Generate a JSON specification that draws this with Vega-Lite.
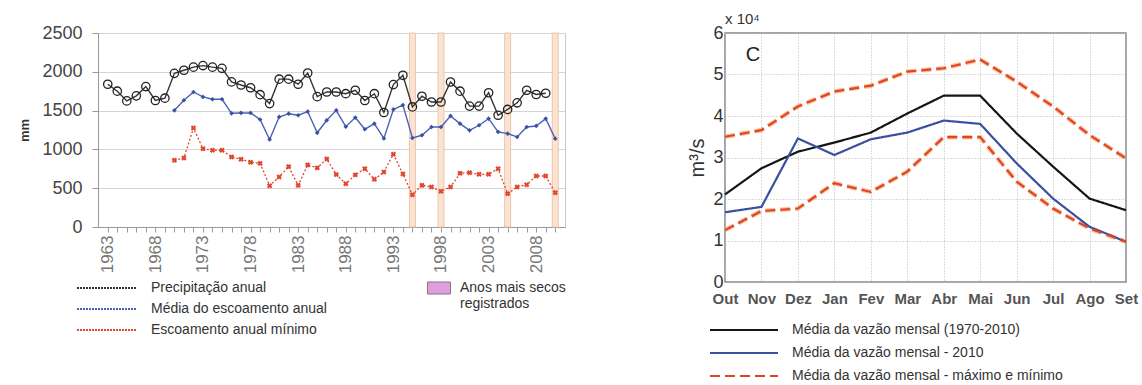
{
  "$schema": "https://vega.github.io/schema/vega-lite/v6.json",
  "background": "white",
  "padding": {"left": 17, "top": 11, "right": 0, "bottom": 0},
  "bounds": "flush",
  "spacing": 160,
  "config": {"font": "Liberation Sans"},
  "resolve": {
    "scale": {"color": "independent", "fill": "independent", "strokeDash": "independent"},
    "legend": {"color": "independent", "fill": "independent", "strokeDash": "independent"}
  },
  "datasets": {
    "secos": [{"ano": 1995}, {"ano": 1998}, {"ano": 2005}, {"ano": 2010}],
    "anual": [
      {"ano": 1963, "serie": "Precipitação anual", "valor": 1840},
      {"ano": 1964, "serie": "Precipitação anual", "valor": 1750},
      {"ano": 1965, "serie": "Precipitação anual", "valor": 1625},
      {"ano": 1966, "serie": "Precipitação anual", "valor": 1690},
      {"ano": 1967, "serie": "Precipitação anual", "valor": 1810},
      {"ano": 1968, "serie": "Precipitação anual", "valor": 1630},
      {"ano": 1969, "serie": "Precipitação anual", "valor": 1660},
      {"ano": 1970, "serie": "Precipitação anual", "valor": 1980},
      {"ano": 1971, "serie": "Precipitação anual", "valor": 2020},
      {"ano": 1972, "serie": "Precipitação anual", "valor": 2060},
      {"ano": 1973, "serie": "Precipitação anual", "valor": 2080},
      {"ano": 1974, "serie": "Precipitação anual", "valor": 2060},
      {"ano": 1975, "serie": "Precipitação anual", "valor": 2045},
      {"ano": 1976, "serie": "Precipitação anual", "valor": 1870},
      {"ano": 1977, "serie": "Precipitação anual", "valor": 1830},
      {"ano": 1978, "serie": "Precipitação anual", "valor": 1795},
      {"ano": 1979, "serie": "Precipitação anual", "valor": 1705},
      {"ano": 1980, "serie": "Precipitação anual", "valor": 1590},
      {"ano": 1981, "serie": "Precipitação anual", "valor": 1905},
      {"ano": 1982, "serie": "Precipitação anual", "valor": 1905},
      {"ano": 1983, "serie": "Precipitação anual", "valor": 1840},
      {"ano": 1984, "serie": "Precipitação anual", "valor": 1985},
      {"ano": 1985, "serie": "Precipitação anual", "valor": 1680},
      {"ano": 1986, "serie": "Precipitação anual", "valor": 1740},
      {"ano": 1987, "serie": "Precipitação anual", "valor": 1740},
      {"ano": 1988, "serie": "Precipitação anual", "valor": 1718},
      {"ano": 1989, "serie": "Precipitação anual", "valor": 1762},
      {"ano": 1990, "serie": "Precipitação anual", "valor": 1630},
      {"ano": 1991, "serie": "Precipitação anual", "valor": 1718},
      {"ano": 1992, "serie": "Precipitação anual", "valor": 1475},
      {"ano": 1993, "serie": "Precipitação anual", "valor": 1835},
      {"ano": 1994, "serie": "Precipitação anual", "valor": 1955},
      {"ano": 1995, "serie": "Precipitação anual", "valor": 1547},
      {"ano": 1996, "serie": "Precipitação anual", "valor": 1685},
      {"ano": 1997, "serie": "Precipitação anual", "valor": 1611},
      {"ano": 1998, "serie": "Precipitação anual", "valor": 1611},
      {"ano": 1999, "serie": "Precipitação anual", "valor": 1869},
      {"ano": 2000, "serie": "Precipitação anual", "valor": 1750},
      {"ano": 2001, "serie": "Precipitação anual", "valor": 1558},
      {"ano": 2002, "serie": "Precipitação anual", "valor": 1558},
      {"ano": 2003, "serie": "Precipitação anual", "valor": 1730},
      {"ano": 2004, "serie": "Precipitação anual", "valor": 1440},
      {"ano": 2005, "serie": "Precipitação anual", "valor": 1515},
      {"ano": 2006, "serie": "Precipitação anual", "valor": 1600},
      {"ano": 2007, "serie": "Precipitação anual", "valor": 1762},
      {"ano": 2008, "serie": "Precipitação anual", "valor": 1708},
      {"ano": 2009, "serie": "Precipitação anual", "valor": 1724},
      {"ano": 1970, "serie": "Média do escoamento anual", "valor": 1504},
      {"ano": 1971, "serie": "Média do escoamento anual", "valor": 1633},
      {"ano": 1972, "serie": "Média do escoamento anual", "valor": 1740},
      {"ano": 1973, "serie": "Média do escoamento anual", "valor": 1676},
      {"ano": 1974, "serie": "Média do escoamento anual", "valor": 1646},
      {"ano": 1975, "serie": "Média do escoamento anual", "valor": 1646},
      {"ano": 1976, "serie": "Média do escoamento anual", "valor": 1465},
      {"ano": 1977, "serie": "Média do escoamento anual", "valor": 1470},
      {"ano": 1978, "serie": "Média do escoamento anual", "valor": 1470},
      {"ano": 1979, "serie": "Média do escoamento anual", "valor": 1385},
      {"ano": 1980, "serie": "Média do escoamento anual", "valor": 1128},
      {"ano": 1981, "serie": "Média do escoamento anual", "valor": 1418},
      {"ano": 1982, "serie": "Média do escoamento anual", "valor": 1460},
      {"ano": 1983, "serie": "Média do escoamento anual", "valor": 1440},
      {"ano": 1984, "serie": "Média do escoamento anual", "valor": 1488},
      {"ano": 1985, "serie": "Média do escoamento anual", "valor": 1214},
      {"ano": 1986, "serie": "Média do escoamento anual", "valor": 1375},
      {"ano": 1987, "serie": "Média do escoamento anual", "valor": 1504},
      {"ano": 1988, "serie": "Média do escoamento anual", "valor": 1293},
      {"ano": 1989, "serie": "Média do escoamento anual", "valor": 1410},
      {"ano": 1990, "serie": "Média do escoamento anual", "valor": 1260},
      {"ano": 1991, "serie": "Média do escoamento anual", "valor": 1332},
      {"ano": 1992, "serie": "Média do escoamento anual", "valor": 1142},
      {"ano": 1993, "serie": "Média do escoamento anual", "valor": 1515},
      {"ano": 1994, "serie": "Média do escoamento anual", "valor": 1572},
      {"ano": 1995, "serie": "Média do escoamento anual", "valor": 1147},
      {"ano": 1996, "serie": "Média do escoamento anual", "valor": 1182},
      {"ano": 1997, "serie": "Média do escoamento anual", "valor": 1289},
      {"ano": 1998, "serie": "Média do escoamento anual", "valor": 1289},
      {"ano": 1999, "serie": "Média do escoamento anual", "valor": 1431},
      {"ano": 2000, "serie": "Média do escoamento anual", "valor": 1332},
      {"ano": 2001, "serie": "Média do escoamento anual", "valor": 1246},
      {"ano": 2002, "serie": "Média do escoamento anual", "valor": 1311},
      {"ano": 2003, "serie": "Média do escoamento anual", "valor": 1396},
      {"ano": 2004, "serie": "Média do escoamento anual", "valor": 1225},
      {"ano": 2005, "serie": "Média do escoamento anual", "valor": 1203},
      {"ano": 2006, "serie": "Média do escoamento anual", "valor": 1160},
      {"ano": 2007, "serie": "Média do escoamento anual", "valor": 1289},
      {"ano": 2008, "serie": "Média do escoamento anual", "valor": 1302},
      {"ano": 2009, "serie": "Média do escoamento anual", "valor": 1396},
      {"ano": 2010, "serie": "Média do escoamento anual", "valor": 1138},
      {"ano": 1970, "serie": "Escoamento anual mínimo", "valor": 860},
      {"ano": 1971, "serie": "Escoamento anual mínimo", "valor": 889},
      {"ano": 1972, "serie": "Escoamento anual mínimo", "valor": 1276},
      {"ano": 1973, "serie": "Escoamento anual mínimo", "valor": 1009},
      {"ano": 1974, "serie": "Escoamento anual mínimo", "valor": 989},
      {"ano": 1975, "serie": "Escoamento anual mínimo", "valor": 989},
      {"ano": 1976, "serie": "Escoamento anual mínimo", "valor": 902},
      {"ano": 1977, "serie": "Escoamento anual mínimo", "valor": 873},
      {"ano": 1978, "serie": "Escoamento anual mínimo", "valor": 835},
      {"ano": 1979, "serie": "Escoamento anual mínimo", "valor": 820},
      {"ano": 1980, "serie": "Escoamento anual mínimo", "valor": 532},
      {"ano": 1981, "serie": "Escoamento anual mínimo", "valor": 645},
      {"ano": 1982, "serie": "Escoamento anual mínimo", "valor": 778},
      {"ano": 1983, "serie": "Escoamento anual mínimo", "valor": 537},
      {"ano": 1984, "serie": "Escoamento anual mínimo", "valor": 800},
      {"ano": 1985, "serie": "Escoamento anual mínimo", "valor": 762},
      {"ano": 1986, "serie": "Escoamento anual mínimo", "valor": 877},
      {"ano": 1987, "serie": "Escoamento anual mínimo", "valor": 676},
      {"ano": 1988, "serie": "Escoamento anual mínimo", "valor": 558},
      {"ano": 1989, "serie": "Escoamento anual mínimo", "valor": 672},
      {"ano": 1990, "serie": "Escoamento anual mínimo", "valor": 751},
      {"ano": 1991, "serie": "Escoamento anual mínimo", "valor": 615},
      {"ano": 1992, "serie": "Escoamento anual mínimo", "valor": 709},
      {"ano": 1993, "serie": "Escoamento anual mínimo", "valor": 938},
      {"ano": 1994, "serie": "Escoamento anual mínimo", "valor": 683},
      {"ano": 1995, "serie": "Escoamento anual mínimo", "valor": 416},
      {"ano": 1996, "serie": "Escoamento anual mínimo", "valor": 537},
      {"ano": 1997, "serie": "Escoamento anual mínimo", "valor": 516},
      {"ano": 1998, "serie": "Escoamento anual mínimo", "valor": 460},
      {"ano": 1999, "serie": "Escoamento anual mínimo", "valor": 516},
      {"ano": 2000, "serie": "Escoamento anual mínimo", "valor": 692},
      {"ano": 2001, "serie": "Escoamento anual mínimo", "valor": 700},
      {"ano": 2002, "serie": "Escoamento anual mínimo", "valor": 679},
      {"ano": 2003, "serie": "Escoamento anual mínimo", "valor": 679},
      {"ano": 2004, "serie": "Escoamento anual mínimo", "valor": 751},
      {"ano": 2005, "serie": "Escoamento anual mínimo", "valor": 430},
      {"ano": 2006, "serie": "Escoamento anual mínimo", "valor": 516},
      {"ano": 2007, "serie": "Escoamento anual mínimo", "valor": 545},
      {"ano": 2008, "serie": "Escoamento anual mínimo", "valor": 657},
      {"ano": 2009, "serie": "Escoamento anual mínimo", "valor": 657},
      {"ano": 2010, "serie": "Escoamento anual mínimo", "valor": 442}
    ],
    "mensal": [
      {"mes": "Out", "serie": "Média da vazão mensal (1970-2010)", "linha": "media", "valor": 2.11},
      {"mes": "Nov", "serie": "Média da vazão mensal (1970-2010)", "linha": "media", "valor": 2.74},
      {"mes": "Dez", "serie": "Média da vazão mensal (1970-2010)", "linha": "media", "valor": 3.14},
      {"mes": "Jan", "serie": "Média da vazão mensal (1970-2010)", "linha": "media", "valor": 3.36},
      {"mes": "Fev", "serie": "Média da vazão mensal (1970-2010)", "linha": "media", "valor": 3.6},
      {"mes": "Mar", "serie": "Média da vazão mensal (1970-2010)", "linha": "media", "valor": 4.06},
      {"mes": "Abr", "serie": "Média da vazão mensal (1970-2010)", "linha": "media", "valor": 4.49},
      {"mes": "Mai", "serie": "Média da vazão mensal (1970-2010)", "linha": "media", "valor": 4.49},
      {"mes": "Jun", "serie": "Média da vazão mensal (1970-2010)", "linha": "media", "valor": 3.58},
      {"mes": "Jul", "serie": "Média da vazão mensal (1970-2010)", "linha": "media", "valor": 2.78},
      {"mes": "Ago", "serie": "Média da vazão mensal (1970-2010)", "linha": "media", "valor": 2.01},
      {"mes": "Set", "serie": "Média da vazão mensal (1970-2010)", "linha": "media", "valor": 1.73},
      {"mes": "Out", "serie": "Média da vazão mensal - 2010", "linha": "2010", "valor": 1.68},
      {"mes": "Nov", "serie": "Média da vazão mensal - 2010", "linha": "2010", "valor": 1.81},
      {"mes": "Dez", "serie": "Média da vazão mensal - 2010", "linha": "2010", "valor": 3.46},
      {"mes": "Jan", "serie": "Média da vazão mensal - 2010", "linha": "2010", "valor": 3.06},
      {"mes": "Fev", "serie": "Média da vazão mensal - 2010", "linha": "2010", "valor": 3.44},
      {"mes": "Mar", "serie": "Média da vazão mensal - 2010", "linha": "2010", "valor": 3.6},
      {"mes": "Abr", "serie": "Média da vazão mensal - 2010", "linha": "2010", "valor": 3.89},
      {"mes": "Mai", "serie": "Média da vazão mensal - 2010", "linha": "2010", "valor": 3.81},
      {"mes": "Jun", "serie": "Média da vazão mensal - 2010", "linha": "2010", "valor": 2.86},
      {"mes": "Jul", "serie": "Média da vazão mensal - 2010", "linha": "2010", "valor": 2.01},
      {"mes": "Ago", "serie": "Média da vazão mensal - 2010", "linha": "2010", "valor": 1.33},
      {"mes": "Set", "serie": "Média da vazão mensal - 2010", "linha": "2010", "valor": 0.97},
      {"mes": "Out", "serie": "Média da vazão mensal - máximo e mínimo", "linha": "max", "valor": 3.5},
      {"mes": "Nov", "serie": "Média da vazão mensal - máximo e mínimo", "linha": "max", "valor": 3.66},
      {"mes": "Dez", "serie": "Média da vazão mensal - máximo e mínimo", "linha": "max", "valor": 4.23},
      {"mes": "Jan", "serie": "Média da vazão mensal - máximo e mínimo", "linha": "max", "valor": 4.59},
      {"mes": "Fev", "serie": "Média da vazão mensal - máximo e mínimo", "linha": "max", "valor": 4.73},
      {"mes": "Mar", "serie": "Média da vazão mensal - máximo e mínimo", "linha": "max", "valor": 5.07},
      {"mes": "Abr", "serie": "Média da vazão mensal - máximo e mínimo", "linha": "max", "valor": 5.15},
      {"mes": "Mai", "serie": "Média da vazão mensal - máximo e mínimo", "linha": "max", "valor": 5.36},
      {"mes": "Jun", "serie": "Média da vazão mensal - máximo e mínimo", "linha": "max", "valor": 4.83},
      {"mes": "Jul", "serie": "Média da vazão mensal - máximo e mínimo", "linha": "max", "valor": 4.23},
      {"mes": "Ago", "serie": "Média da vazão mensal - máximo e mínimo", "linha": "max", "valor": 3.54},
      {"mes": "Set", "serie": "Média da vazão mensal - máximo e mínimo", "linha": "max", "valor": 2.98},
      {"mes": "Out", "serie": "Média da vazão mensal - máximo e mínimo", "linha": "min", "valor": 1.25},
      {"mes": "Nov", "serie": "Média da vazão mensal - máximo e mínimo", "linha": "min", "valor": 1.71},
      {"mes": "Dez", "serie": "Média da vazão mensal - máximo e mínimo", "linha": "min", "valor": 1.77},
      {"mes": "Jan", "serie": "Média da vazão mensal - máximo e mínimo", "linha": "min", "valor": 2.38},
      {"mes": "Fev", "serie": "Média da vazão mensal - máximo e mínimo", "linha": "min", "valor": 2.17},
      {"mes": "Mar", "serie": "Média da vazão mensal - máximo e mínimo", "linha": "min", "valor": 2.66},
      {"mes": "Abr", "serie": "Média da vazão mensal - máximo e mínimo", "linha": "min", "valor": 3.49},
      {"mes": "Mai", "serie": "Média da vazão mensal - máximo e mínimo", "linha": "min", "valor": 3.49},
      {"mes": "Jun", "serie": "Média da vazão mensal - máximo e mínimo", "linha": "min", "valor": 2.42},
      {"mes": "Jul", "serie": "Média da vazão mensal - máximo e mínimo", "linha": "min", "valor": 1.77},
      {"mes": "Ago", "serie": "Média da vazão mensal - máximo e mínimo", "linha": "min", "valor": 1.29},
      {"mes": "Set", "serie": "Média da vazão mensal - máximo e mínimo", "linha": "min", "valor": 0.97}
    ],
    "rotulo": [{"texto": "C"}]
  },
  "hconcat": [
    {
      "width": 467,
      "height": 194,
      "view": {"stroke": "#c8c8c8", "strokeWidth": 1},
      "layer": [
        {
          "data": {"name": "secos"},
          "mark": {"type": "bar", "width": 6, "fill": "#fbe3d3", "stroke": "#f0c4a8", "strokeWidth": 1},
          "encoding": {
            "x": {"field": "ano", "type": "quantitative",
              "scale": {"domain": [1962.5, 2010.5], "nice": false, "zero": false},
              "axis": {"title": null, "tickCount": 200,
                "values": [1963,1964,1965,1966,1967,1968,1969,1970,1971,1972,1973,1974,1975,1976,1977,1978,1979,1980,1981,1982,1983,1984,1985,1986,1987,1988,1989,1990,1991,1992,1993,1994,1995,1996,1997,1998,1999,2000,2001,2002,2003,2004,2005,2006,2007,2008,2009,2010],
                "labelExpr": "(datum.value - 1963) % 5 == 0 ? '' + datum.value : ''",
                "labelAngle": -90, "labelAlign": "right", "labelBaseline": "middle",
                "labelFontSize": 17, "labelColor": "#777", "labelPadding": 3,
                "labelOverlap": false, "labelFlush": false,
                "tickSize": 5, "tickColor": "#999", "domainColor": "#999", "grid": false}},
            "y": {"datum": 0, "type": "quantitative",
              "scale": {"domain": [0, 2500], "nice": false},
              "axis": {"title": "mm", "titleFontSize": 13, "titleFontWeight": "bold", "titleColor": "#333", "titlePadding": 11,
                "values": [0, 500, 1000, 1500, 2000, 2500], "tickCount": 50, "format": "d",
                "labelFontSize": 18, "labelColor": "#444", "labelPadding": 10,
                "tickSize": 6, "tickColor": "#999", "domainColor": "#999",
                "grid": true, "gridColor": "#d4d4d4", "gridWidth": 1.2,
                "minExtent": 56, "maxExtent": 56}},
            "y2": {"datum": 2500}
          }
        },
        {
          "data": {"name": "secos"},
          "transform": [{"filter": "datum.ano < 0"}],
          "mark": {"type": "bar", "width": 6, "stroke": "#8a708a", "strokeWidth": 1},
          "encoding": {
            "x": {"field": "ano", "type": "quantitative"},
            "y": {"datum": 0, "type": "quantitative"},
            "y2": {"datum": 2500},
            "fill": {"datum": "Anos mais secos registrados",
              "scale": {"range": ["#dca0dc"]},
              "legend": {"orient": "none", "legendX": 334, "legendY": 248, "title": null,
                "symbolType": "M-1.92,-1H1.92V1H-1.92Z", "symbolSize": 144,
                "symbolStrokeColor": "#8a708a", "symbolStrokeWidth": 1, "symbolOpacity": 1,
                "labelOffset": 14, "labelFontSize": 14, "labelColor": "#333", "padding": 0,
                "labelExpr": "['Anos mais secos', 'registrados']", "labelLimit": 300}}
          }
        },
        {
          "data": {"name": "anual"},
          "transform": [{"filter": "datum.serie != 'Escoamento anual mínimo'"}],
          "mark": {"type": "line", "strokeWidth": 1.4},
          "encoding": {
            "x": {"field": "ano", "type": "quantitative"},
            "y": {"field": "valor", "type": "quantitative", "title": "mm"},
            "color": {"field": "serie", "type": "nominal",
              "scale": {"domain": ["Precipitação anual", "Média do escoamento anual", "Escoamento anual mínimo"],
                        "range": ["#333333", "#4a62b4", "#e2452e"]},
              "legend": {"orient": "none", "legendX": 2, "legendY": 248, "title": null,
                "symbolType": "M-6,0H6", "symbolSize": 100, "symbolStrokeWidth": 2, "symbolDash": [2, 1],
                "labelOffset": 37, "labelFontSize": 14, "labelColor": "#333",
                "rowPadding": 7, "padding": 0, "labelLimit": 300}}
          }
        },
        {
          "data": {"name": "anual"},
          "transform": [{"filter": "datum.serie == 'Escoamento anual mínimo'"}],
          "mark": {"type": "line", "strokeWidth": 1.3, "strokeDash": [2, 2]},
          "encoding": {
            "x": {"field": "ano", "type": "quantitative"},
            "y": {"field": "valor", "type": "quantitative", "title": "mm"},
            "color": {"field": "serie", "type": "nominal"}
          }
        },
        {
          "data": {"name": "anual"},
          "transform": [{"filter": "datum.serie == 'Precipitação anual'"}],
          "mark": {"type": "point", "shape": "circle", "filled": false, "size": 70, "stroke": "#222", "strokeWidth": 1.3, "opacity": 1},
          "encoding": {
            "x": {"field": "ano", "type": "quantitative"},
            "y": {"field": "valor", "type": "quantitative", "title": "mm"}
          }
        },
        {
          "data": {"name": "anual"},
          "transform": [{"filter": "datum.serie == 'Média do escoamento anual'"}],
          "mark": {"type": "point", "shape": "diamond", "filled": true, "size": 22, "color": "#3a52a6", "opacity": 1},
          "encoding": {
            "x": {"field": "ano", "type": "quantitative"},
            "y": {"field": "valor", "type": "quantitative", "title": "mm"}
          }
        },
        {
          "data": {"name": "anual"},
          "transform": [{"filter": "datum.serie == 'Escoamento anual mínimo'"}],
          "mark": {"type": "point", "shape": "cross", "angle": 45, "filled": true, "size": 30, "color": "#e2452e", "opacity": 1},
          "encoding": {
            "x": {"field": "ano", "type": "quantitative"},
            "y": {"field": "valor", "type": "quantitative", "title": "mm"}
          }
        }
      ]
    },
    {
      "width": 401,
      "height": 249,
      "title": {"text": "x 10⁴", "anchor": "start", "frame": "group", "fontSize": 15, "fontWeight": "normal", "color": "#333", "offset": -3},
      "view": {"stroke": "#888", "strokeWidth": 1.5},
      "layer": [
        {
          "data": {"name": "mensal"},
          "transform": [{"filter": "datum.linha == 'max' || datum.linha == 'min'"}],
          "mark": {"type": "line", "color": "#f7a86a", "strokeWidth": 4.5, "strokeDash": [10, 5], "opacity": 0.7},
          "encoding": {
            "x": {"field": "mes", "type": "ordinal",
              "sort": ["Out", "Nov", "Dez", "Jan", "Fev", "Mar", "Abr", "Mai", "Jun", "Jul", "Ago", "Set"],
              "scale": {"type": "point", "padding": 0},
              "axis": {"title": null, "labelAngle": 0, "labelFontSize": 15, "labelFontWeight": "bold", "labelColor": "#555",
                "labelPadding": 9, "ticks": false, "domain": false,
                "grid": true, "gridDash": [1, 2], "gridColor": "#b8b8b8"}},
            "y": {"field": "valor", "type": "quantitative",
              "scale": {"domain": [0, 6], "nice": false},
              "axis": {"title": "m³/s", "titleFontSize": 20, "titleFontWeight": "normal", "titleColor": "#333", "titlePadding": 5,
                "values": [0, 1, 2, 3, 4, 5, 6], "tickCount": 50, "format": "d", "labelFontSize": 18, "labelColor": "#333", "labelPadding": 2,
                "ticks": false, "domain": false, "grid": true, "gridDash": [1, 2], "gridColor": "#b8b8b8"}},
            "detail": {"field": "linha"}
          }
        },
        {
          "data": {"name": "mensal"},
          "mark": {"type": "line", "strokeWidth": 2.2, "strokeCap": "butt"},
          "encoding": {
            "x": {"field": "mes", "type": "ordinal",
              "sort": ["Out", "Nov", "Dez", "Jan", "Fev", "Mar", "Abr", "Mai", "Jun", "Jul", "Ago", "Set"]},
            "y": {"field": "valor", "type": "quantitative", "title": "m³/s"},
            "detail": {"field": "linha"},
            "color": {"field": "serie", "type": "nominal",
              "scale": {"domain": ["Média da vazão mensal (1970-2010)", "Média da vazão mensal - 2010", "Média da vazão mensal - máximo e mínimo"],
                        "range": ["#151515", "#3b4ea0", "#e04428"]},
              "legend": {"orient": "none", "legendX": 12, "legendY": 290, "title": null,
                "symbolType": "M-6.8,0H6.8", "symbolSize": 100, "symbolStrokeWidth": 2, "symbolDash": [3, 2],
                "labelOffset": 41, "labelFontSize": 14, "labelColor": "#333",
                "rowPadding": 9, "padding": 0, "labelLimit": 400}},
            "strokeDash": {"field": "serie", "type": "nominal",
              "scale": {"domain": ["Média da vazão mensal (1970-2010)", "Média da vazão mensal - 2010", "Média da vazão mensal - máximo e mínimo"],
                        "range": [[1, 0], [1, 0], [10, 5]]},
              "legend": null}
          }
        },
        {
          "data": {"name": "rotulo"},
          "mark": {"type": "text", "fontSize": 20, "color": "#222", "dx": 28, "align": "center", "baseline": "middle"},
          "encoding": {
            "x": {"datum": "Out"},
            "y": {"datum": 5.48},
            "text": {"field": "texto"}
          }
        }
      ]
    }
  ]
}
